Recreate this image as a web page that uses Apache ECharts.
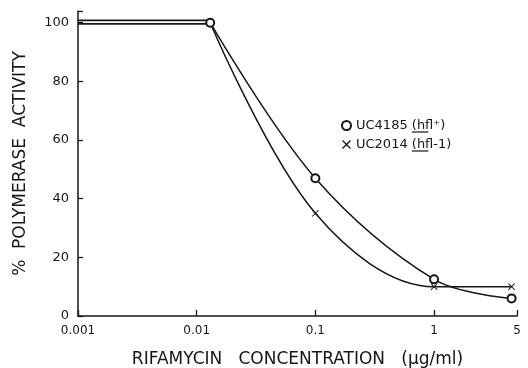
<!DOCTYPE html>
<html>
<head>
<meta charset="utf-8">
<script src="https://cdn.jsdelivr.net/npm/echarts@6/dist/echarts.min.js"></script>
<style>
  html, body { margin: 0; padding: 0; background: #fff; }
  #chart { width: 528px; height: 368px; }
</style>
</head>
<body>
<div id="chart"></div>
<script>
// 读图数据
const xTicks = [0.001, 0.01, 0.1, 1, 5];
const plateauX = [0.001, 0.0125];
const plateauHfl = [100.8, 100.8];
const plateauUc2014 = [99.6, 99.6];
const doseX = [0.013, 0.1, 1, 4.5];
const uc4185 = [100, 47, 12.5, 6];
const uc2014 = [100, 35, 10, 10];

const ink = '#161616';
const font = 'DejaVu Sans';
const crossPath = 'path://M0,1L1,0L5,4L9,0L10,1L6,5L10,9L9,10L5,6L1,10L0,9L4,5Z';

// 图例位置
const legendLeft = 336;
const legendTop = 114;
const legendGap = 6;
const rowStep = 16 + legendGap - 3;

function pairs(xs, ys) {
  return xs.map((x, i) => [x, ys[i]]);
}

// 用画布量文字宽度，给 hfl 加下划线
const ctx = document.createElement('canvas').getContext('2d');
ctx.font = '13px "' + font + '"';
function underline(prefix, row) {
  const x0 = legendLeft + 9 + 5 + ctx.measureText(prefix).width + 1;
  const w = ctx.measureText('hfl').width;
  const y = legendTop + 18 + row * rowStep;
  return {
    type: 'line',
    shape: { x1: x0, y1: y, x2: x0 + w, y2: y },
    style: { stroke: ink, lineWidth: 1.2 }
  };
}

const chart = echarts.init(document.getElementById('chart'));

const option = {
  animation: false,
  backgroundColor: '#fff',
  grid: { left: 78, right: 11, top: 11, bottom: 52, outerBoundsMode: 'none', containLabel: false },
  legend: {
    left: legendLeft,
    top: legendTop,
    orient: 'vertical',
    itemGap: legendGap,
    itemWidth: 9,
    itemHeight: 9,
    data: [
      { name: 'UC4185', icon: 'emptyCircle' },
      { name: 'UC2014', icon: crossPath }
    ],
    formatter: function (name) {
      if (name === 'UC4185') return '{n|UC4185 (hfl\u207a)}';
      return '{n|UC2014 (hfl-1)}';
    },
    textStyle: {
      color: ink,
      fontFamily: font,
      fontSize: 13,
      rich: {
        n: { fontSize: 13, fontFamily: font, color: ink, height: 15 }
      }
    }
  },
  graphic: [
    underline('UC4185 (', 0),
    underline('UC2014 (', 1)
  ],
  xAxis: {
    type: 'log',
    min: 0.001,
    max: 5,
    logBase: 10,
    name: 'RIFAMYCIN   CONCENTRATION   (\u03bcg/ml)',
    nameLocation: 'middle',
    nameGap: 35,
    nameTextStyle: { color: ink, fontFamily: font, fontSize: 17 },
    axisLine: { lineStyle: { color: ink, width: 1.5 } },
    axisTick: { inside: true, length: 6, lineStyle: { color: ink, width: 1.3 } },
    minorTick: { show: false },
    splitLine: { show: false },
    axisLabel: {
      color: ink,
      fontFamily: font,
      fontSize: 12,
      margin: 9,
      formatter: function (v) {
        const hit = xTicks.find(t => Math.abs(t - v) / t < 1e-6);
        return hit === undefined ? '' : String(hit);
      }
    }
  },
  yAxis: {
    type: 'value',
    min: 0,
    max: 104,
    interval: 20,
    name: '%  POLYMERASE  ACTIVITY',
    nameLocation: 'middle',
    nameGap: 49,
    nameTextStyle: { color: ink, fontFamily: font, fontSize: 17 },
    axisLine: { show: true, lineStyle: { color: ink, width: 1.5 } },
    axisTick: { show: true, inside: true, length: 5, lineStyle: { color: ink, width: 1.3 } },
    splitLine: { show: false },
    axisLabel: {
      color: ink,
      fontFamily: font,
      fontSize: 13,
      margin: 9,
      formatter: function (v) { return v % 20 === 0 ? String(v) : ''; }
    }
  },
  series: [
    {
      name: 'plateau1',
      type: 'line',
      data: pairs(plateauX, plateauHfl),
      symbol: 'none',
      lineStyle: { color: ink, width: 1.6 }
    },
    {
      name: 'plateau2',
      type: 'line',
      data: pairs(plateauX, plateauUc2014),
      symbol: 'none',
      lineStyle: { color: ink, width: 1.6 }
    },
    {
      name: 'UC4185',
      type: 'line',
      smooth: 0.35,
      data: pairs(doseX, uc4185),
      symbol: 'emptyCircle',
      symbolSize: 8,
      itemStyle: { color: ink, borderColor: ink, borderWidth: 1.5 },
      lineStyle: { color: ink, width: 1.5 },
      z: 3
    },
    {
      name: 'UC2014',
      type: 'line',
      smooth: 0.35,
      data: pairs(doseX, uc2014).map((p, i) => i === 0 ? { value: p, symbol: 'none' } : p),
      symbol: crossPath,
      symbolSize: 7,
      itemStyle: { color: ink },
      lineStyle: { color: ink, width: 1.5 },
      z: 2
    }
  ]
};

chart.setOption(option);
</script>
</body>
</html>
